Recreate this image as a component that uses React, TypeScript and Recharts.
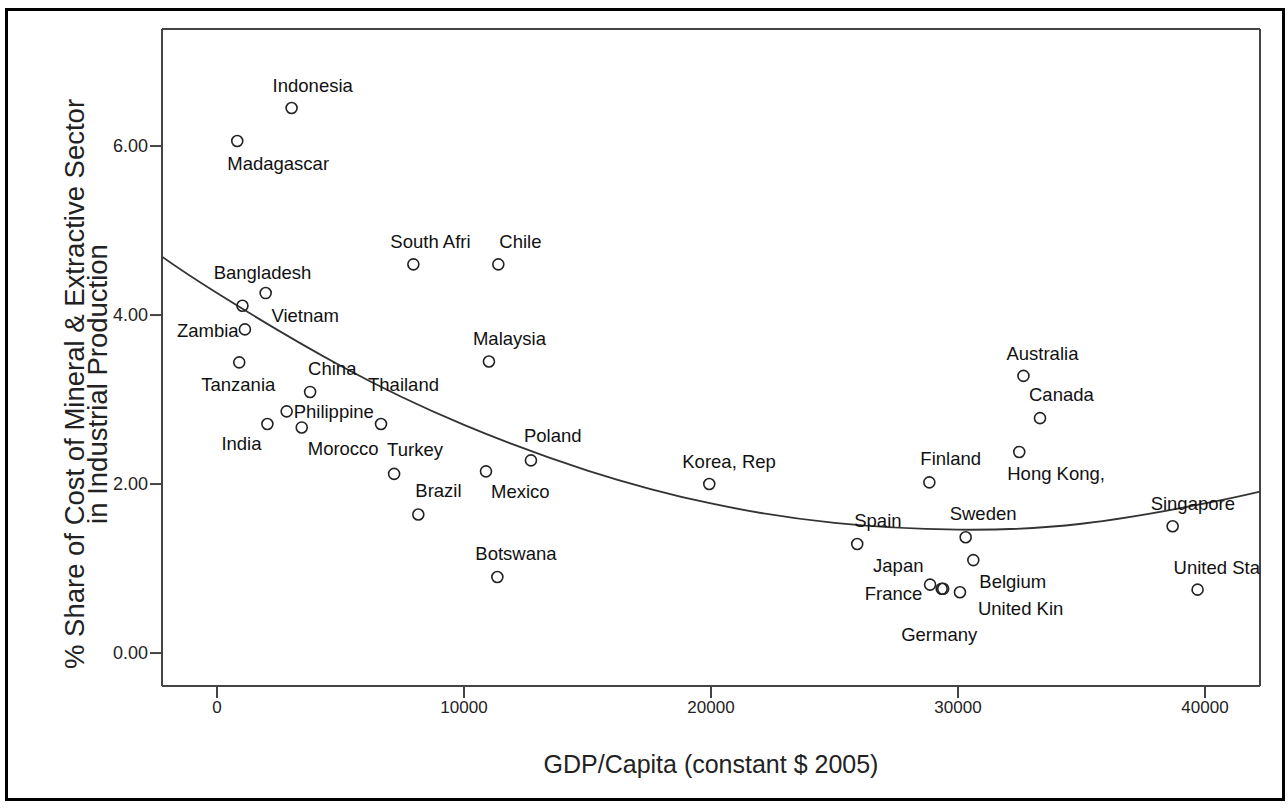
import { ComposedChart, Scatter, Line, XAxis, YAxis, ReferenceLine, Label } from 'recharts';

const FONT = '"Liberation Sans", Arial, sans-serif';

// countries (SPSS truncates case labels to 10 chars)
const COUNTRIES = [
  'Indonesia', 'Madagascar', 'South Afri', 'Chile', 'Bangladesh', 'Vietnam', 'Zambia',
  'Tanzania', 'China', 'Philippine', 'India', 'Morocco', 'Thailand', 'Turkey', 'Brazil',
  'Malaysia', 'Mexico', 'Poland', 'Botswana', 'Korea, Rep', 'Australia', 'Canada',
  'Hong Kong,', 'Finland', 'Spain', 'Sweden', 'Belgium', 'Japan', 'France', 'Germany',
  'United Kin', 'Singapore', 'United Sta',
];

// GDP per capita, constant $ 2005
const GDP = [
  3020, 820, 7950, 11390, 1970, 1030, 1130,
  900, 3770, 2820, 2040, 3430, 6640, 7170, 8150,
  11010, 10890, 12710, 11350, 19930, 32650, 33320,
  32480, 28840, 25920, 30310, 30620, 28870, 29340, 29400,
  30080, 38690, 39700,
];

// % share of cost of mineral & extractive sector
const SHARE = [
  6.45, 6.06, 4.6, 4.6, 4.26, 4.11, 3.83,
  3.44, 3.09, 2.86, 2.71, 2.67, 2.71, 2.12, 1.64,
  3.45, 2.15, 2.28, 0.9, 2.0, 3.28, 2.78,
  2.38, 2.02, 1.29, 1.37, 1.1, 0.81, 0.76, 0.76,
  0.72, 1.5, 0.75,
];

// quadratic fit line
const FIT_GDP = [-2227, 0, 5000, 10000, 15000, 20000, 25000, 30000, 35000, 40000, 42227];
const FIT_SHARE = [4.69, 4.26, 3.4, 2.7, 2.16, 1.77, 1.54, 1.46, 1.53, 1.77, 1.91];

const X_TICKS = [0, 10000, 20000, 30000, 40000];
const Y_TICKS = [0, 2, 4, 6];
const X_MIN = -2227;
const X_MAX = 42227;
const Y_MIN = -0.39;
const Y_MAX = 7.385;

// label placement relative to marker (text start, baseline)
const LABEL_POS: Record<string, [number, number]> = {
  Indonesia: [-19, -16],
  Madagascar: [-10, 29],
  'South Afri': [-23, -16],
  Chile: [1, -16],
  Bangladesh: [-52, -14],
  Vietnam: [29, 16],
  Zambia: [-68, 8],
  Tanzania: [-38, 29],
  China: [-2, -17],
  Philippine: [7, 7],
  India: [-46, 26],
  Morocco: [6, 28],
  Thailand: [-13, -33],
  Turkey: [-7, -18],
  Brazil: [-3, -17],
  Malaysia: [-16, -17],
  Mexico: [5, 27],
  Poland: [-7, -18],
  Botswana: [-22, -17],
  'Korea, Rep': [-27, -16],
  Australia: [-17, -16],
  Canada: [-11, -17],
  'Hong Kong,': [-12, 28],
  Finland: [-9, -17],
  Spain: [-3, -17],
  Sweden: [-16, -17],
  Belgium: [6, 28],
  Japan: [-57, -13],
  France: [-77, 11],
  Germany: [-42, 52],
  'United Kin': [18, 23],
  Singapore: [-22, -16],
  'United Sta': [-24, -16],
};

const points = COUNTRIES.map((name, i) => ({ name, gdp: GDP[i], share: SHARE[i] }));
const fitPoints = FIT_GDP.map((g, i) => ({ gdp: g, share: FIT_SHARE[i] }));

const AXIS = '#444';

function renderPoint(props: any) {
  const { cx, cy, payload } = props;
  const [dx, dy] = LABEL_POS[payload.name] ?? [6, -8];
  return (
    <g>
      <circle cx={cx} cy={cy} r={5.5} fill="none" stroke="#222" strokeWidth={1.6} />
      <text x={cx + dx} y={cy + dy} fontFamily={FONT} fontSize={18.5} fill="#111">
        {payload.name}
      </text>
    </g>
  );
}

export default function App() {
  return (
    <div style={{ position: 'absolute', left: 0, top: 0, width: 1288, height: 808, background: '#fff' }}>
      <div
        style={{
          position: 'absolute',
          left: 5,
          top: 8,
          width: 1280,
          height: 793,
          border: '3px solid #000',
          boxSizing: 'border-box',
        }}
      />
      <ComposedChart
        width={1288}
        height={808}
        margin={{ top: 29, right: 28, bottom: 62, left: 82 }}
        style={{ position: 'absolute', left: 0, top: 0 }}
      >
        <XAxis
          type="number"
          dataKey="gdp"
          domain={[X_MIN, X_MAX]}
          ticks={X_TICKS}
          allowDataOverflow
          height={60}
          tickSize={12}
          tickMargin={3}
          axisLine={{ stroke: AXIS, strokeWidth: 2 }}
          tickLine={{ stroke: AXIS, strokeWidth: 2 }}
          tick={{ fontFamily: FONT, fontSize: 17, fill: '#222' }}
        >
          <Label
            content={() => (
              <text x={711} y={773} textAnchor="middle" fontFamily={FONT} fontSize={25} fill="#222">
                GDP/Capita (constant $ 2005)
              </text>
            )}
          />
        </XAxis>
        <YAxis
          type="number"
          dataKey="share"
          domain={[Y_MIN, Y_MAX]}
          ticks={Y_TICKS}
          allowDataOverflow
          width={80}
          tickSize={12}
          tickMargin={2}
          tickFormatter={(v: number) => v.toFixed(2)}
          axisLine={{ stroke: AXIS, strokeWidth: 2 }}
          tickLine={{ stroke: AXIS, strokeWidth: 2 }}
          tick={{ fontFamily: FONT, fontSize: 18, fill: '#222' }}
        >
          <Label
            content={() => (
              <g fontFamily={FONT} fontSize={27.5} fill="#222" textAnchor="middle">
                <text transform="translate(84,384) rotate(-90)">
                  % Share of Cost of Mineral &amp; Extractive Sector
                </text>
                <text transform="translate(107,384) rotate(-90)">in Industrial Production</text>
              </g>
            )}
          />
        </YAxis>
        <ReferenceLine y={Y_MAX} stroke={AXIS} strokeWidth={2} ifOverflow="visible" />
        <ReferenceLine x={X_MAX} stroke={AXIS} strokeWidth={2} ifOverflow="visible" />
        <Line
          data={fitPoints}
          dataKey="share"
          type="natural"
          dot={false}
          activeDot={false}
          stroke="#333"
          strokeWidth={1.8}
          isAnimationActive={false}
        />
        <Scatter data={points} dataKey="share" shape={renderPoint} isAnimationActive={false} />
      </ComposedChart>
    </div>
  );
}
